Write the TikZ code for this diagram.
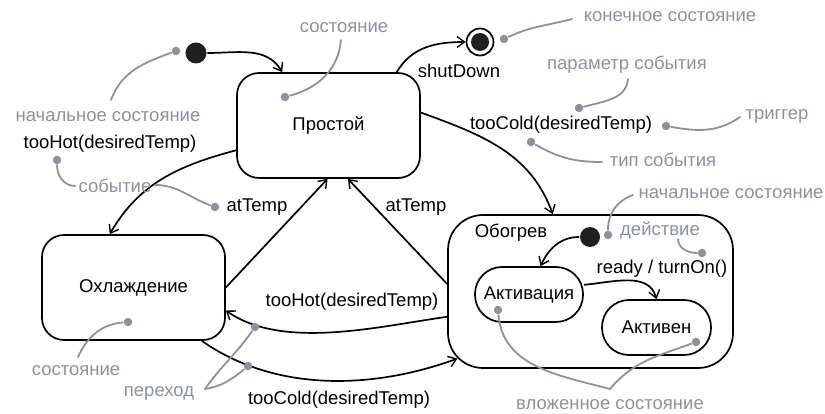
\documentclass[tikz,border=0pt]{standalone}
\usepackage{fontspec}
\setmainfont{Liberation Sans}
\usepackage{xcolor}
\usepackage{tikz}
\usetikzlibrary{arrows.meta, calc}
\definecolor{notegray}{RGB}{138,146,160}

\begin{document}
\begin{tikzpicture}[x=1pt, y=1pt, line width=1.7pt,
    lbl/.style={font=\fontsize{18.5}{22}\selectfont, inner sep=0pt},
    note/.style={lbl, text=notegray},
    statebox/.style={lbl, draw, rounded corners=22pt, minimum width=183pt, minimum height=105pt},
    substate/.style={lbl, draw, rounded corners=27pt, minimum width=108pt, minimum height=55pt},
    initdot/.style={circle, fill=black!88, minimum size=21pt, inner sep=0pt},
    trans/.style={-{Straight Barb[length=7.5pt,width=11pt,line width=1.4pt]}},
    noteline/.style={draw=notegray, line width=1.8pt, line cap=round},
    notedot/.style={circle, fill=notegray, minimum size=8.5pt, inner sep=0pt}]
  \useasboundingbox (0,0) rectangle (825,-414);

  \node[statebox] (idle) at (328.5,-125.5) {Простой};
  \node[statebox] (cool) at (133.5,-287.5) {Охлаждение};
  \node[statebox, rounded corners=35pt, minimum width=285pt, minimum height=153pt] (heat) at (590.5,-291.5) {};
  \node[lbl, anchor=west] (heatname) at (474,-233) {Обогрев};
  \node[substate] (act) at (529,-294.5) {Активация};
  \node[substate, minimum width=109pt] (on) at (656.5,-327.5) {Активен};
  \node[initdot] (start) at (196,-53) {};
  \node[initdot, minimum size=20pt] (substart) at (590,-237) {};
  \node[circle, draw, minimum size=27pt, inner sep=0pt] (stop) at (480,-42) {};
  \fill[black!88] (stop) circle (9);

  \draw[trans] (start) to[out=0, in=120] (idle.131);
  \draw[trans] (idle.38) to[out=60, in=180] (stop);
  \draw[trans] (idle.8) to[out=-20, in=110] (heat.116);
  \draw[trans] (heat.177) -- (idle.-70);
  \draw[trans] (cool.east) -- (idle.-91);
  \draw[trans] (idle.195) to[out=195, in=60] (cool.114);
  \draw[trans] (heat.190) to[out=188, in=-35, looseness=0.8] (cool.-14);
  \draw[trans] (cool.-38) to[out=-35, in=200, looseness=0.9] ($(heat.south west)+(10.3,10.3)$);
  \draw[trans] (substart) to[out=180, in=65] (act.68);
  \draw[trans] (act.10) to[out=5, in=105] (on.north);

  \node[lbl] (shut) at (459,-71) {shutDown};
  \node[lbl] (coldtop) at (561,-125) {tooCold(desiredTemp)};
  \node[lbl] (hottop) at (110,-144) {tooHot(desiredTemp)};
  \node[lbl] (atleft) at (257,-207) {atTemp};
  \node[lbl] (atright) at (416,-207) {atTemp};
  \node[lbl] (hotlow) at (352,-302) {tooHot(desiredTemp)};
  \node[lbl] (coldlow) at (339,-400) {tooCold(desiredTemp)};
  \node[lbl] (ready) at (662,-269) {ready / turnOn()};

  \node[note] (t1) at (344,-28) {состояние};
  \node[note] (t2) at (108,-117) {начальное состояние};
  \node[note] (t3) at (115,-186) {событие};
  \node[note] (t4) at (670,-17) {конечное состояние};
  \node[note] (t5) at (627,-65) {параметр события};
  \node[note] (t6) at (777,-116) {триггер};
  \node[note] (t7) at (663,-160) {тип события};
  \node[note] (t8) at (731,-194) {начальное состояние};
  \node[note] (t9) at (660,-230) {действие};
  \node[note] (t10) at (610,-405) {вложенное состояние};
  \node[note] (t11) at (76,-371) {состояние};
  \node[note] (t12) at (159,-393) {переход};

  \node[notedot] (n1) at (285,-97) {};
  \node[notedot] (n2) at (176,-51) {};
  \node[notedot] (n3) at (57,-160) {};
  \node[notedot] (n4) at (215,-207) {};
  \node[notedot] (n5) at (504,-39) {};
  \node[notedot] (n6) at (579,-108) {};
  \node[notedot] (n7) at (666,-126) {};
  \node[notedot] (n8) at (531,-142) {};
  \node[notedot] (n9) at (608,-235) {};
  \node[notedot] (n10) at (702,-253) {};
  \node[notedot] (n11) at (498,-310) {};
  \node[notedot] (n12) at (696,-342) {};
  \node[notedot] (n13) at (128,-322) {};
  \node[notedot] (n14) at (255,-327) {};
  \node[notedot] (n15) at (248,-366) {};

  \coordinate (c1) at (341,-40);
  \coordinate (c2) at (111,-100);
  \coordinate (c3a) at (75,-186);
  \coordinate (c3b) at (155,-185);
  \coordinate (c5) at (572,-19);
  \coordinate (c6) at (628,-79);
  \coordinate (c7) at (740,-117);
  \coordinate (c8) at (602,-162);
  \coordinate (c9) at (633,-195);
  \coordinate (c10) at (678,-239);
  \coordinate (c11) at (610,-389);
  \coordinate (c13) at (78,-357);
  \coordinate (c14) at (205,-389);

  \path[noteline] (c1) to[out=-95, in=15] (n1);
  \path[noteline] (c2) to[out=70, in=200] (n2);
  \path[noteline] (n3) to[out=-90, in=180] (c3a);
  \path[noteline] (c3b) to[out=0, in=160] (n4);
  \path[noteline] (c5) to[out=195, in=25] (n5);
  \path[noteline] (c6) to[out=-95, in=15] (n6);
  \path[noteline] (c7) to[out=215, in=-10] (n7);
  \path[noteline] (c8) to[out=180, in=-30] (n8);
  \path[noteline] (c9) to[out=200, in=90] (n9);
  \path[noteline] (c10) to[out=-90, in=180] (n10);
  \path[noteline] (c11) to[out=165, in=-85] (n11);
  \path[noteline] (c11) to[out=50, in=200] (n12);
  \path[noteline] (c13) to[out=65, in=185] (n13);
  \path[noteline] (c14) to[out=55, in=235] (n14);
  \path[noteline] (c14) to[out=10, in=220] (n15);
\end{tikzpicture}
\end{document}
